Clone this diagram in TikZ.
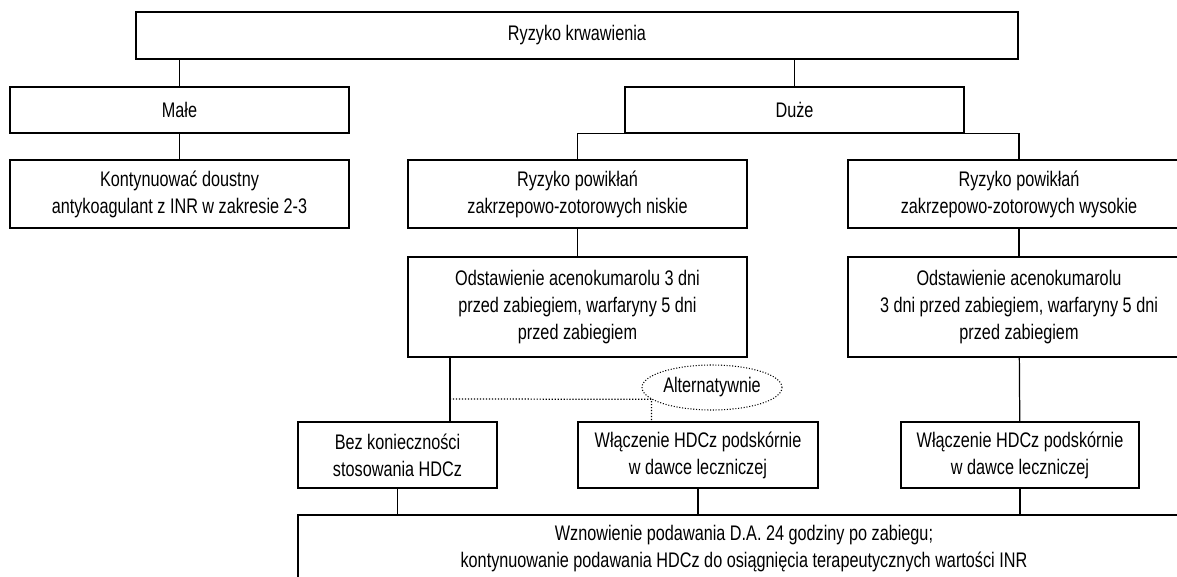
\documentclass[tikz,border=0pt]{standalone}
\usepackage{fontspec}
\setmainfont{Liberation Sans}[FakeStretch=0.77]
\usetikzlibrary{positioning,shapes.geometric}

\begin{document}
\begin{tikzpicture}[
  font=\fontsize{12}{15.4}\selectfont,
  box/.style={draw, line width=0.7pt, align=center, inner sep=1pt},
  link/.style={line width=0.7pt},
  alt/.style={draw, ellipse, densely dotted, line width=0.6pt, inner sep=0pt,
    minimum width=2.8cm, minimum height=0.9cm},
  altlink/.style={densely dotted, line width=0.7pt}
]
\useasboundingbox (0,0) rectangle (23.54,-11.54);
\clip (0,0) rectangle (23.54,-11.54);

% row heights
\def\RA{-0.71}
\def\RB{-2.2}
\def\RC{-3.88}
\def\RD{-6.14}
\def\RE{-9.1}
\def\RF{-10.98}

% bleeding risk
\node[box, minimum width=17.64cm, minimum height=0.94cm] (risk) at (11.54,\RA) {Ryzyko krwawienia};
\node[box, minimum width=6.78cm, minimum height=0.92cm] (small) at (3.59,\RB) {Małe};
\node[box, minimum width=6.78cm, minimum height=0.92cm] (big) at (15.89,\RB) {Duże};
\draw[link] (small.north) -- (small.north |- risk.south);
\draw[link] (big.north) -- (big.north |- risk.south);

% small risk
\node[box, minimum width=6.78cm, minimum height=1.36cm] (cont) at (3.59,\RC) {Kontynuować doustny\\antykoagulant z INR w zakresie 2-3};
\draw[link] (small) -- (cont);

% big risk, thrombosis low / high
\node[box, minimum width=6.78cm, minimum height=1.36cm] (low) at (11.55,\RC) {Ryzyko powikłań\\zakrzepowo-zotorowych niskie};
\node[box, minimum width=6.84cm, minimum height=1.36cm] (high) at (20.38,\RC) {Ryzyko powikłań\\zakrzepowo-zotorowych wysokie};
\draw[link] (low.north) |- (high.north |- big.south) -- (high.north);

\node[box, minimum width=6.78cm, minimum height=2cm] (stopL) at (11.55,\RD) {Odstawienie acenokumarolu 3 dni\\przed zabiegiem, warfaryny 5 dni\\przed zabiegiem};
\node[box, minimum width=6.84cm, minimum height=2cm] (stopR) at (20.38,\RD) {Odstawienie acenokumarolu\\3 dni przed zabiegiem, warfaryny 5 dni\\przed zabiegiem};
\draw[link] (low) -- (stopL);
\draw[link] (high) -- (stopR);

% bridging
\node[box, minimum width=3.98cm, minimum height=1.32cm] (nohd) at (7.95,\RE) {Bez konieczności\\stosowania HDCz};
\node[box, minimum width=4.8cm, minimum height=1.32cm] (hdL) at (13.96,\RE) {Włączenie HDCz podskórnie\\w dawce leczniczej};
\node[box, minimum width=4.76cm, minimum height=1.32cm] (hdR) at (20.4,\RE) {Włączenie HDCz podskórnie\\w dawce leczniczej};
\node[alt] (alt) at (14.24,-7.75) {Alternatywnie};
\coordinate (split) at (9.0,-7.98);
\draw[link] (stopL.south -| split) -- (nohd.north -| split);
\draw[altlink] (split) -- (alt.191) -- (alt.191 |- hdL.north);
\draw[link] (stopR) -- (hdR);

% restart
\node[box, minimum width=17.84cm, minimum height=1.36cm] (resume) at (14.88,\RF) {Wznowienie podawania D.A. 24 godziny po zabiegu;\\kontynuowanie podawania HDCz do osiągnięcia terapeutycznych wartości INR};
\draw[link] (nohd.south) -- (nohd.south |- resume.north);
\draw[link] (hdL.south) -- (hdL.south |- resume.north);
\draw[link] (hdR.south) -- (hdR.south |- resume.north);

\end{tikzpicture}
\end{document}
